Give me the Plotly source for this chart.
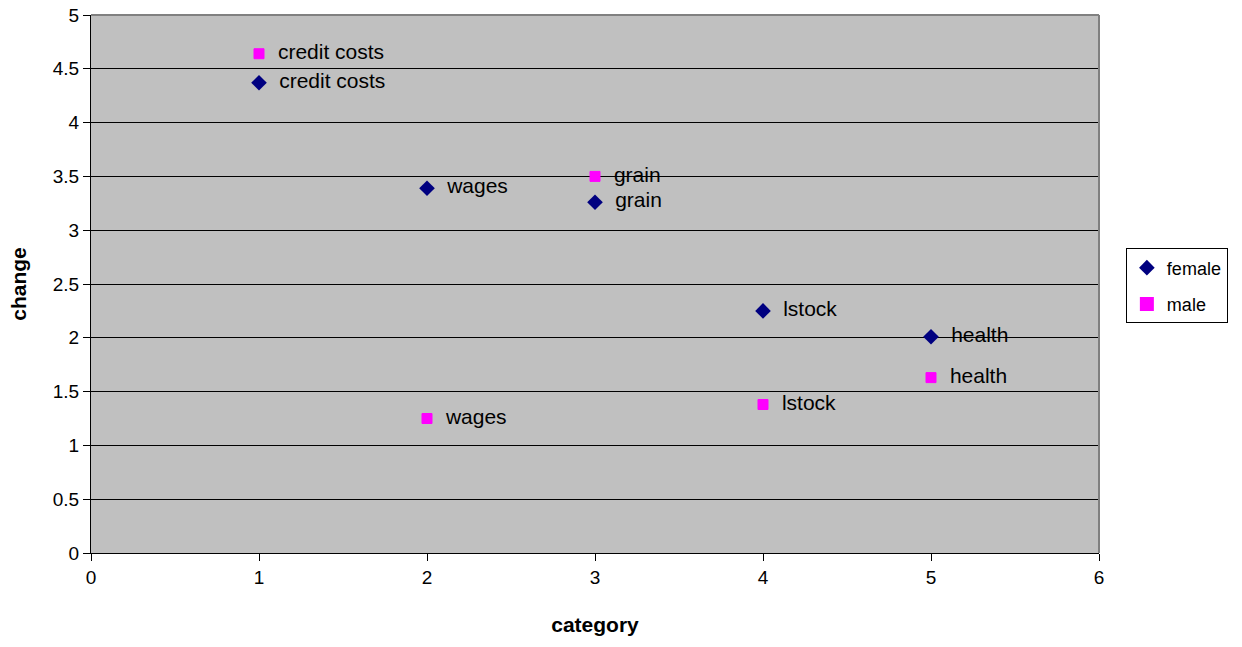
import plotly.graph_objects as go

# Category positions and change scores per group
categories = ["credit costs", "wages", "grain", "lstock", "health"]
category_x = [1, 2, 3, 4, 5]
female_change = [4.37, 3.39, 3.26, 2.25, 2.01]
male_change = [4.64, 1.25, 3.50, 1.38, 1.63]

y_ticks = [0, 0.5, 1, 1.5, 2, 2.5, 3, 3.5, 4, 4.5, 5]
y_tick_text = ["0", "0.5", "1", "1.5", "2", "2.5", "3", "3.5", "4", "4.5", "5"]
x_ticks = [0, 1, 2, 3, 4, 5, 6]

font_family = "Liberation Sans, Arial, sans-serif"
label_font = dict(family=font_family, size=21, color="black")

fig = go.Figure()
fig.add_trace(go.Scatter(
    x=category_x, y=female_change, mode="markers+text", name="female",
    legendgroup="female",
    text=["  " + c for c in categories], textposition="middle right",
    textfont=label_font,
    marker=dict(symbol="diamond", size=12, color="#000080",
                line=dict(width=0)),
))
fig.add_trace(go.Scatter(
    x=category_x, y=male_change, mode="markers+text", name="male",
    legendgroup="male",
    text=["  " + c for c in categories], textposition="middle right",
    textfont=label_font,
    marker=dict(symbol="square", size=10, color="#FF00FF",
                line=dict(width=1, color="#FF00FF")),
))

fig.update_layout(
    width=1242, height=647,
    margin=dict(l=91, r=143, t=15, b=94, autoexpand=False),
    paper_bgcolor="white",
    plot_bgcolor="#C0C0C0",
    font=dict(family=font_family, size=19, color="black"),
    showlegend=True,
    legend=dict(
        xref="container", yref="container",
        x=0.9065, y=0.558, xanchor="left", yanchor="middle",
        bordercolor="black", borderwidth=1, bgcolor="white",
        font=dict(size=18), itemsizing="constant", itemwidth=30,
        tracegroupgap=10,
    ),
    xaxis=dict(
        range=[0, 6], tickvals=x_ticks, ticks="outside", ticklen=7,
        tickcolor="black", showline=True, linecolor="black", linewidth=1,
        showgrid=False, zeroline=False, automargin=False,
        title=dict(text="<b>category</b>", font=dict(size=21), standoff=30),
        tickfont=dict(size=19),
    ),
    yaxis=dict(
        range=[0, 5], tickvals=y_ticks, ticktext=y_tick_text,
        ticks="outside", ticklen=7, tickcolor="black",
        showline=True, linecolor="black", linewidth=1,
        showgrid=True, gridcolor="black", gridwidth=1, zeroline=False,
        automargin=False,
        title=dict(text="<b>change</b>", font=dict(size=21), standoff=20),
        tickfont=dict(size=19),
    ),
)

# Gray frame along the top and right edges of the plotting area
fig.add_shape(type="line", xref="paper", yref="paper", x0=0, x1=1, y0=1, y1=1,
              line=dict(color="#808080", width=2))
fig.add_shape(type="line", xref="paper", yref="paper", x0=1, x1=1, y0=0, y1=1,
              line=dict(color="#808080", width=2))

fig.write_html("out.html")
